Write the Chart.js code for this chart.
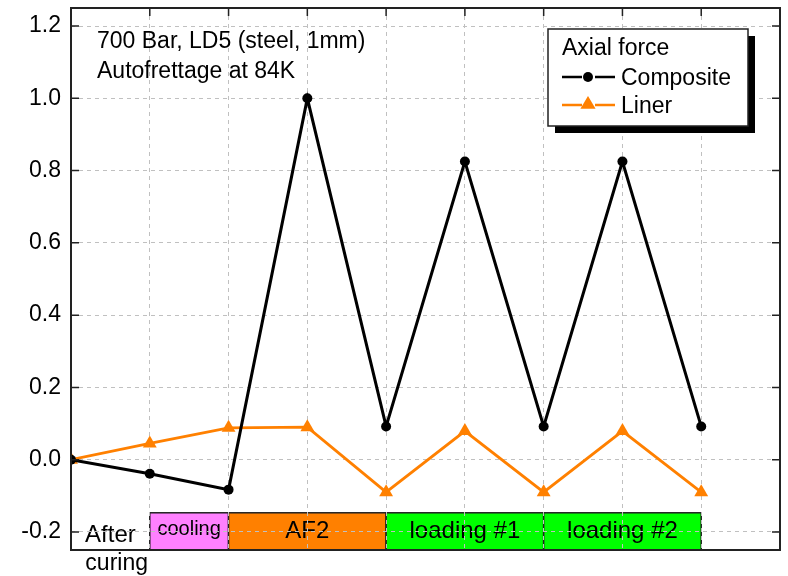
<!DOCTYPE html>
<html>
<head>
<meta charset="utf-8">
<script src="https://cdn.jsdelivr.net/npm/chart.js@4"></script>
<style>
  body { margin: 0; background: #fff; }
  canvas { display: block; }
</style>
</head>
<body>
<canvas id="myChart" width="788" height="576"></canvas>
<script>
//data
let steps = [0, 1, 2, 3, 4, 5, 6, 7, 8];
let composite = [0, -0.039, -0.083, 1.0, 0.092, 0.825, 0.092, 0.825, 0.092];
let liner = [0, 0.045, 0.088, 0.09, -0.09, 0.079, -0.09, 0.079, -0.09];
let yTicks = [-0.2, 0, 0.2, 0.4, 0.6, 0.8, 1.0, 1.2];
let stageNames = ['cooling', 'AF2', 'loading #1', 'loading #2'];
let stageFrom = [1, 2, 4, 6];
let stageTo = [2, 4, 6, 8];
let stageColors = ['#ff80ff', '#ff8000', '#00ff00', '#00ff00'];
let stageTop = -0.147;
let noteLines = ['700 Bar, LD5 (steel, 1mm)', 'Autofrettage at 84K'];
let legendTitle = 'Axial force';

let font = '"Liberation Sans", Arial, sans-serif';
let orange = '#ff8000';

function pts(values) {
    return values.map(function (v, i) {
        return {x: steps[i], y: v};
    });
}

function triangle(ctx, x, y, r) {
    ctx.beginPath();
    ctx.moveTo(x, y - r);
    ctx.lineTo(x + r * 0.95, y + r * 0.6);
    ctx.lineTo(x - r * 0.95, y + r * 0.6);
    ctx.closePath();
    ctx.fill();
}

// stage bars, frame, inward ticks, note and legend
let extras = {
    id: 'extras',
    beforeDraw(chart) {
        let ctx = chart.ctx, xs = chart.scales.x, ys = chart.scales.y, a = chart.chartArea;
        ctx.save();
        let y1 = ys.getPixelForValue(stageTop);
        for (let i = 0; i < stageNames.length; i++) {
            let x1 = xs.getPixelForValue(stageFrom[i]);
            let x2 = xs.getPixelForValue(stageTo[i]);
            ctx.fillStyle = stageColors[i];
            ctx.fillRect(x1, y1, x2 - x1, a.bottom - y1);
            ctx.strokeStyle = '#222';
            ctx.lineWidth = 1.5;
            ctx.strokeRect(x1, y1, x2 - x1, a.bottom - y1);
            ctx.fillStyle = '#000';
            ctx.textAlign = 'center';
            ctx.textBaseline = 'alphabetic';
            ctx.font = (i == 0 ? '20px ' : '24px ') + font;
            ctx.fillText(stageNames[i], (x1 + x2) / 2, i == 0 ? 535 : 538);
        }
        ctx.font = '24px ' + font;
        ctx.fillStyle = '#000';
        ctx.textAlign = 'center';
        ctx.fillText('After', xs.getPixelForValue(0.5), 542);
        ctx.font = '23px ' + font;
        ctx.fillText('curing', xs.getPixelForValue(0.58), 570);
        ctx.restore();
    },
    afterDraw(chart) {
        let ctx = chart.ctx, xs = chart.scales.x, ys = chart.scales.y, a = chart.chartArea;
        ctx.save();
        ctx.strokeStyle = '#222';
        ctx.lineWidth = 1.5;
        ctx.beginPath();
        yTicks.forEach(function (v) {
            let y = ys.getPixelForValue(v);
            ctx.moveTo(a.left, y); ctx.lineTo(a.left + 8, y);
            ctx.moveTo(a.right, y); ctx.lineTo(a.right - 8, y);
        });
        for (let s = 1; s <= 8; s++) {
            let x = xs.getPixelForValue(s);
            ctx.moveTo(x, a.top); ctx.lineTo(x, a.top + 8);
        }
        ctx.stroke();
        ctx.lineWidth = 2;
        ctx.strokeRect(a.left, a.top, a.right - a.left, a.bottom - a.top);

        // note
        ctx.fillStyle = '#000';
        ctx.font = '23px ' + font;
        ctx.textAlign = 'left';
        ctx.fillText(noteLines[0], a.left + 26, 48);
        ctx.fillText(noteLines[1], a.left + 26, 78);

        // legend box with shadow
        let bx = 548, by = 29, bw = 200, bh = 97;
        ctx.fillStyle = '#000';
        ctx.fillRect(bx + 7, by + 7, bw, bh);
        ctx.fillStyle = '#fff';
        ctx.fillRect(bx, by, bw, bh);
        ctx.lineWidth = 1.5;
        ctx.strokeStyle = '#222';
        ctx.strokeRect(bx, by, bw, bh);
        ctx.fillStyle = '#000';
        ctx.font = '23px ' + font;
        ctx.fillText(legendTitle, 562, 55);
        let names = chart.data.datasets.map(function (d) { return d.label; });
        let rows = [77, 105];
        for (let i = 0; i < 2; i++) {
            let col = i == 0 ? '#000' : orange;
            ctx.strokeStyle = col;
            ctx.lineWidth = 2.5;
            ctx.beginPath();
            ctx.moveTo(562, rows[i]); ctx.lineTo(582, rows[i]);
            ctx.moveTo(595, rows[i]); ctx.lineTo(615, rows[i]);
            ctx.stroke();
            ctx.fillStyle = col;
            if (i == 0) {
                ctx.beginPath();
                ctx.arc(588, rows[i], 5, 0, Math.PI * 2);
                ctx.fill();
            } else {
                triangle(ctx, 588, rows[i] - 1, 8);
            }
            ctx.fillStyle = '#000';
            ctx.fillText(names[i], 621, rows[i] + 8);
        }
        ctx.restore();
    }
};

let ctx = document.getElementById('myChart').getContext('2d');
let chart = new Chart(ctx, {
    type: 'line',
    data: {
        datasets: [{
            label: 'Composite',
            data: pts(composite),
            borderColor: '#000',
            backgroundColor: '#000',
            borderWidth: 3,
            pointStyle: 'circle',
            pointRadius: 5,
            pointBorderWidth: 0,
            tension: 0
        }, {
            label: 'Liner',
            data: pts(liner),
            borderColor: orange,
            backgroundColor: orange,
            borderWidth: 2.8,
            pointStyle: 'triangle',
            pointRadius: 8,
            pointBorderWidth: 0,
            tension: 0
        }]
    },
    options: {
        responsive: false,
        animation: false,
        layout: {padding: {top: 8, right: 7, left: 0, bottom: 0}},
        plugins: {legend: {display: false}, tooltip: {enabled: false}},
        scales: {
            x: {
                type: 'linear',
                min: 0,
                max: 9,
                ticks: {display: false, stepSize: 1},
                grid: {color: '#c0c0c0', drawTicks: false, lineWidth: 1},
                border: {display: false, dash: [4, 4]},
                afterFit: function (scale) {
                    scale.height = 26;
                    scale.paddingLeft = 0; scale.paddingRight = 0;
                }
            },
            y: {
                min: -0.25,
                max: 1.25,
                afterBuildTicks: function (scale) {
                    scale.ticks = yTicks.map(function (v) { return {value: v}; });
                },
                ticks: {
                    color: '#000',
                    padding: 10,
                    font: {family: font, size: 23},
                    callback: function (v) { return v.toFixed(1); }
                },
                grid: {color: '#c0c0c0', drawTicks: false, lineWidth: 1},
                border: {display: false, dash: [4, 4]},
                afterFit: function (scale) {
                    scale.width = 71;
                    scale.paddingTop = 0; scale.paddingBottom = 0;
                }
            }
        }
    },
    plugins: [extras]
});
</script>
</body>
</html>
